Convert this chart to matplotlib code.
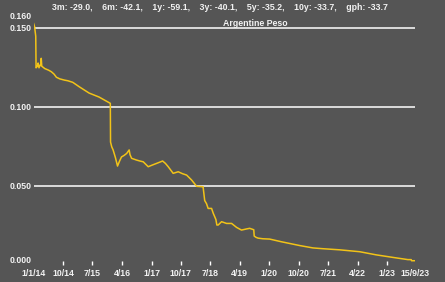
import pandas as pd
import matplotlib
matplotlib.use('Agg')
import matplotlib.pyplot as plt

# Argentine Peso (USD per ARS)
dates = ['2014-01-01', '2014-01-10', '2014-01-21', '2014-01-24', '2014-02-05', '2014-02-12',
         '2014-02-20', '2014-03-05', '2014-03-10', '2014-03-13', '2014-03-18', '2014-04-15',
         '2014-05-20', '2014-06-15', '2014-07-10', '2014-08-01', '2014-09-01', '2014-10-15',
         '2014-11-15', '2014-12-31', '2015-03-01', '2015-06-01', '2015-09-01', '2015-12-15',
         '2015-12-17', '2015-12-28', '2016-01-10', '2016-02-01', '2016-02-20', '2016-03-10',
         '2016-03-28', '2016-04-20', '2016-05-15', '2016-06-07', '2016-06-15', '2016-06-30',
         '2016-08-15', '2016-09-15', '2016-10-16', '2016-12-01', '2017-01-10', '2017-02-17',
         '2017-04-14', '2017-05-10', '2017-06-05', '2017-07-21', '2017-09-06', '2017-10-15',
         '2017-11-23', '2018-01-08', '2018-02-24', '2018-04-25', '2018-05-10', '2018-05-27',
         '2018-06-11', '2018-07-13', '2018-07-28', '2018-08-22', '2018-08-31', '2018-09-12',
         '2018-10-14', '2018-11-29', '2019-01-15', '2019-03-02', '2019-04-17', '2019-06-02',
         '2019-07-02', '2019-08-09', '2019-08-13', '2019-08-30', '2019-09-18', '2019-11-01',
         '2020-01-04', '2020-04-22', '2020-10-09', '2021-02-09', '2021-05-13', '2021-10-15',
         '2022-04-19', '2022-09-21', '2023-02-22', '2023-07-11', '2023-08-11', '2023-08-14',
         '2023-09-15']
values = [0.153, 0.151, 0.145, 0.125, 0.126, 0.128,
          0.125, 0.127, 0.1265, 0.131, 0.126, 0.1245,
          0.1235, 0.1225, 0.121, 0.119, 0.118, 0.1172,
          0.1168, 0.1158, 0.113, 0.109, 0.1065, 0.1025,
          0.078, 0.075, 0.073, 0.068, 0.0628, 0.066,
          0.0686, 0.0695, 0.0708, 0.073, 0.0700, 0.0677,
          0.0666, 0.0660, 0.0655, 0.0624, 0.0635, 0.0645,
          0.066, 0.0645, 0.0624, 0.0582, 0.0592, 0.0580,
          0.0571, 0.054, 0.050, 0.0497, 0.041, 0.039,
          0.036, 0.036, 0.033, 0.0290, 0.0255, 0.0255,
          0.0276, 0.0265, 0.0265, 0.024, 0.0223, 0.023,
          0.0234, 0.0225, 0.0185, 0.0177, 0.0172, 0.0168,
          0.0166, 0.0149, 0.0125, 0.0110, 0.0105, 0.0098,
          0.0086, 0.0066, 0.0050, 0.0036, 0.0036, 0.0029,
          0.0029]

tick_dates = ['2014-10-01', '2015-07-01', '2016-04-01', '2017-01-01', '2017-10-01', '2018-07-01',
              '2019-04-01', '2020-01-01', '2020-10-01', '2021-07-01', '2022-04-01', '2023-01-01']
tick_labels = ['10/14', '7/15', '4/16', '1/17', '10/17', '7/18', '4/19', '1/20', '10/20', '7/21', '4/22', '1/23']
end_dates = ['2014-01-01', '2023-09-15']
end_labels = ['1/1/14', '15/9/23']
grid_values = [0.05, 0.10, 0.15]
ylabel_values = [0.000, 0.050, 0.100, 0.150, 0.160]

stats = '3m: -29.0,    6m: -42.1,    1y: -59.1,    3y: -40.1,    5y: -35.2,    10y: -33.7,    gph: -33.7'
title = 'Argentine Peso'

bg = '#555555'
fg = '#f2f2f2'
line_col = '#f2c318'
fs = 6.3

plt.rcParams['font.family'] = ['Liberation Sans', 'DejaVu Sans']

fig = plt.figure(figsize=(4.45, 2.82), dpi=100, facecolor=bg)
ax = fig.add_axes([0.0755, 0.0592, 0.857, 0.8965], facecolor=bg)

x = pd.to_datetime(dates)
for g in grid_values:
    ax.axhline(g, color='white', lw=1.1, zorder=1)
ax.plot(x, values, color=line_col, lw=1.1, zorder=3)

ax.set_xlim(pd.Timestamp(end_dates[0]), pd.Timestamp(end_dates[1]))
ax.set_ylim(0, 0.16)
for s in ax.spines.values():
    s.set_visible(False)

ax.set_xticks(pd.to_datetime(tick_dates), labels=tick_labels)
ax.set_xticks(pd.to_datetime(end_dates), labels=end_labels, minor=True)
ax.tick_params(axis='x', which='major', direction='in', length=3, width=1, color='white',
               labelsize=fs, labelcolor=fg, pad=2.5)
ax.tick_params(axis='x', which='minor', length=0, labelsize=fs, labelcolor=fg, pad=2.5)
for lab in ax.get_xticklabels(minor=False) + ax.get_xticklabels(minor=True):
    lab.set_fontweight('bold')

ax.set_yticks([])
trans = ax.get_yaxis_transform()
for v in ylabel_values:
    yv = v
    if v == 0.0:
        yv = 0.0033
    elif v == 0.16:
        yv = 0.1573
    ax.text(-0.004, yv, f'{v:.3f}', transform=trans, ha='right', va='center',
            fontsize=fs, color=fg, fontweight='bold')

fig.text(0.494, 0.972, stats, ha='center', va='center', fontsize=fs, color=fg, fontweight='bold')
fig.text(0.573, 0.918, title, ha='center', va='center', fontsize=fs, color=fg, fontweight='bold')

plt.savefig('out.png', dpi=100, facecolor=bg)
